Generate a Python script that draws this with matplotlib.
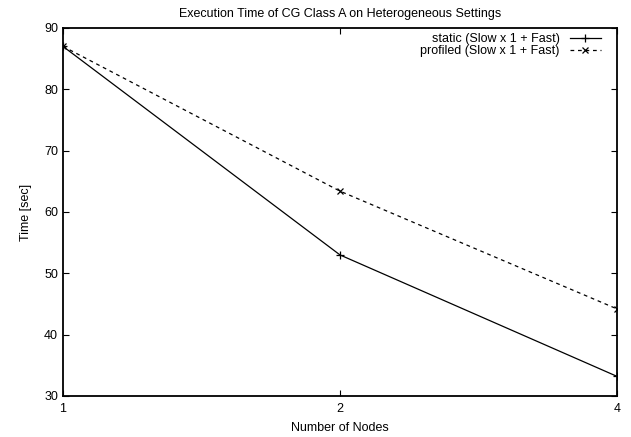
import matplotlib
matplotlib.use('Agg')
import matplotlib.pyplot as plt
from matplotlib.ticker import FixedLocator, FixedFormatter, NullLocator

FONT = {'family': 'Liberation Sans', 'size': 9}
matplotlib.rc('font', **FONT)

# data
nodes = [1, 2, 4]
static_time = [87.0, 53.0, 33.2]
profiled_time = [87.0, 63.4, 44.2]
static_label = "static (Slow x 1 + Fast)"
profiled_label = "profiled (Slow x 1 + Fast)"

fig = plt.figure(figsize=(6.31, 4.37), dpi=100)
ax = fig.add_axes([63 / 631, 1 - 396 / 437, 554 / 631, 368 / 437])

ax.plot(nodes, static_time, color='black', lw=0.9, marker='+', ms=6,
        mew=0.9, label=static_label)
ax.plot(nodes, profiled_time, color='black', lw=0.9, marker='x', ms=5,
        mew=0.9, dashes=(3, 3), label=profiled_label)

ax.set_xscale('log', base=2)
ax.set_xlim(1, 4)
ax.set_ylim(30, 90)
ax.xaxis.set_major_locator(FixedLocator(nodes))
ax.xaxis.set_major_formatter(FixedFormatter([str(n) for n in nodes]))
ax.xaxis.set_minor_locator(NullLocator())
ax.set_yticks(range(30, 91, 10))

ax.tick_params(direction='in', length=4, width=0.8, top=True, right=True,
               labelsize=9)
ax.tick_params(axis='x', pad=5)
for spine in ax.spines.values():
    spine.set_linewidth(1.3)

ax.set_xlabel("Number of Nodes", fontsize=9, labelpad=5)
ax.set_ylabel("Time [sec]", fontsize=9, labelpad=9)
ax.set_title("Execution Time of CG Class A on Heterogeneous Settings",
             fontsize=9, pad=8)

ax.legend(loc='upper right', bbox_to_anchor=(0.980, 0.999), frameon=False,
          markerfirst=False, handlelength=2.5, handletextpad=0.8,
          labelspacing=0.0, borderaxespad=0.0, fontsize=9)

fig.savefig('out.png', dpi=100)
